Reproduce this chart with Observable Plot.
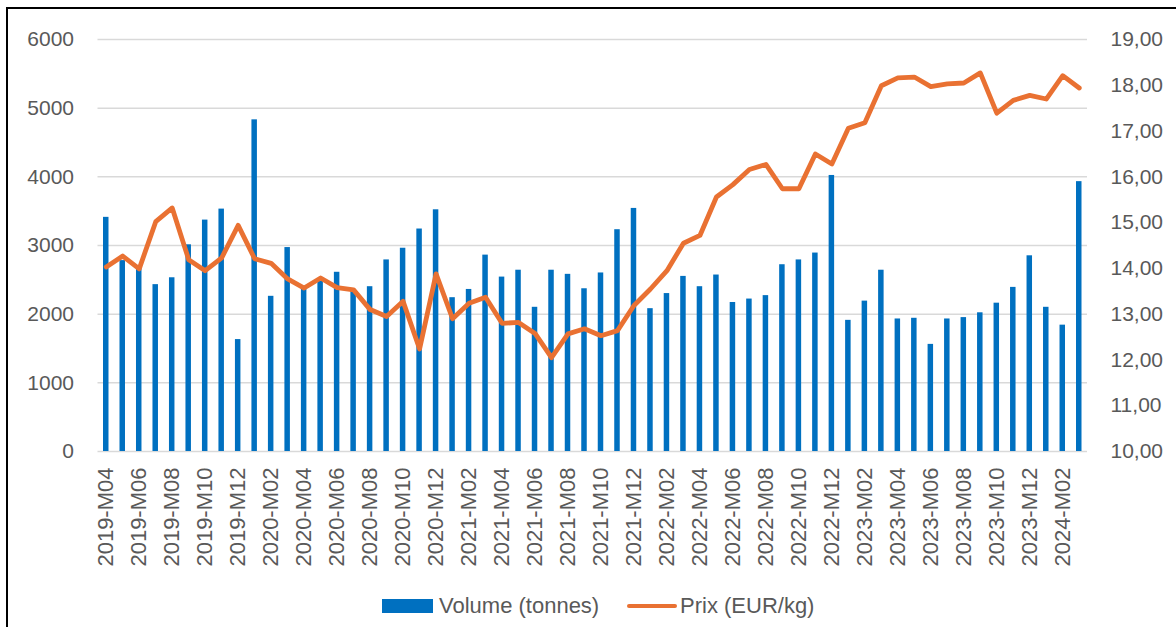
<!DOCTYPE html>
<html><head><meta charset="utf-8">
<script src="https://cdn.jsdelivr.net/npm/d3@7"></script>
<script src="https://cdn.jsdelivr.net/npm/@observablehq/plot@0.6"></script>
<style>
html,body{margin:0;padding:0;background:#fff;}
body{width:1176px;height:627px;overflow:hidden;position:relative;font-family:"Liberation Sans",Arial,sans-serif;}
#chart{position:absolute;left:0;top:0;}
#frame{position:absolute;left:6px;top:7px;width:1300px;height:800px;border-top:2px solid #000;border-left:2px solid #000;pointer-events:none;}
.lg{position:absolute;font-size:22px;color:#595959;line-height:26px;top:593px;white-space:nowrap;}
.sw{position:absolute;}
</style>
</head><body>
<div id="chart"></div>
<div id="legend"></div>
<div id="frame"></div>
<script>
const months = [
"2019-M04","2019-M05","2019-M06","2019-M07","2019-M08","2019-M09","2019-M10","2019-M11","2019-M12",
"2020-M01","2020-M02","2020-M03","2020-M04","2020-M05","2020-M06","2020-M07","2020-M08","2020-M09","2020-M10","2020-M11","2020-M12",
"2021-M01","2021-M02","2021-M03","2021-M04","2021-M05","2021-M06","2021-M07","2021-M08","2021-M09","2021-M10","2021-M11","2021-M12",
"2022-M01","2022-M02","2022-M03","2022-M04","2022-M05","2022-M06","2022-M07","2022-M08","2022-M09","2022-M10","2022-M11","2022-M12",
"2023-M01","2023-M02","2023-M03","2023-M04","2023-M05","2023-M06","2023-M07","2023-M08","2023-M09","2023-M10","2023-M11","2023-M12",
"2024-M01","2024-M02","2024-M03"];

const volume = [3410,2780,2680,2430,2530,3010,3370,3530,1630,
4830,2260,2970,2360,2480,2610,2350,2400,2790,2960,3240,3520,
2240,2360,2860,2540,2640,2100,2640,2580,2370,2600,3230,3540,
2080,2300,2550,2400,2570,2170,2220,2270,2720,2790,2890,4020,
1910,2190,2640,1930,1940,1560,1930,1950,2020,2160,2390,2850,
2100,1840,3930];

const price = [14.03,14.27,13.99,15.02,15.32,14.19,13.95,14.23,14.94,
14.21,14.11,13.77,13.57,13.79,13.58,13.53,13.10,12.95,13.28,12.24,13.88,
12.90,13.24,13.37,12.80,12.82,12.58,12.05,12.57,12.68,12.53,12.64,13.19,
13.55,13.95,14.55,14.72,15.56,15.83,16.16,16.27,15.74,15.74,16.50,16.28,
17.06,17.18,17.99,18.16,18.18,17.97,18.03,18.05,18.27,17.39,17.67,17.78,
17.70,18.21,17.94];

const xTicks = ["2019-M04","2019-M06","2019-M08","2019-M10","2019-M12",
"2020-M02","2020-M04","2020-M06","2020-M08","2020-M10","2020-M12",
"2021-M02","2021-M04","2021-M06","2021-M08","2021-M10","2021-M12",
"2022-M02","2022-M04","2022-M06","2022-M08","2022-M10","2022-M12",
"2023-M02","2023-M04","2023-M06","2023-M08","2023-M10","2023-M12",
"2024-M02"];
const volumeTicks = [0,1000,2000,3000,4000,5000,6000];
const priceTicks = [10,11,12,13,14,15,16,17,18,19];

const seriesNames = ["Volume (tonnes)", "Prix (EUR/kg)"];
const colors = ["#0070C0", "#E97132"];

// secondary axis mapping: price 10..19 -> volume 0..6000
const pMin = 10, pMax = 19, vMax = 6000;
const toY = p => (p - pMin) * vMax / (pMax - pMin);
const fromY = v => pMin + v * (pMax - pMin) / vMax;

const data = months.map((m, i) => ({month: m, volume: volume[i], price: price[i]}));

const chart = Plot.plot({
  width: 1176,
  height: 580,
  marginLeft: 97.5,
  marginRight: 89,
  marginTop: 39,
  marginBottom: 129,
  style: {fontFamily: "'Liberation Sans', Arial, sans-serif", fontSize: "21px", color: "#595959", background: "white"},
  x: {type: "band", domain: months, paddingInner: 0.667, paddingOuter: 0.3335, round: false, label: null},
  y: {domain: [0, vMax], label: null},
  marks: [
    Plot.gridY(volumeTicks, {stroke: "#d9d9d9", strokeOpacity: 1, strokeWidth: 1.5}),
    Plot.barY(data, {x: "month", y: "volume", fill: colors[0]}),
    Plot.line(data, {x: "month", y: d => toY(d.price), stroke: colors[1], strokeWidth: 4.8, strokeLinejoin: "round", strokeLinecap: "round"}),
    Plot.axisY(volumeTicks, {anchor: "left", tickSize: 0, tickPadding: 24, tickFormat: d => String(d), label: null}),
    Plot.axisY(priceTicks.map(toY), {anchor: "right", tickSize: 0, tickPadding: 23, tickFormat: d => d3.format(".2f")(fromY(d)).replace(".", ","), label: null}),
    Plot.axisX(xTicks, {tickRotate: -90, tickSize: 0, tickPadding: 16, fontSize: 22, label: null})
  ]
});
document.getElementById("chart").appendChild(chart);

const lg = document.getElementById("legend");
lg.innerHTML = `
<div class="sw" style="left:382px;top:599px;width:51px;height:14px;background:${colors[0]}"></div>
<div class="lg" style="left:439px">${seriesNames[0]}</div>
<div class="sw" style="left:627px;top:604px;width:50px;height:4px;border-radius:2px;background:${colors[1]}"></div>
<div class="lg" style="left:680px">${seriesNames[1]}</div>`;
</script>
</body></html>
